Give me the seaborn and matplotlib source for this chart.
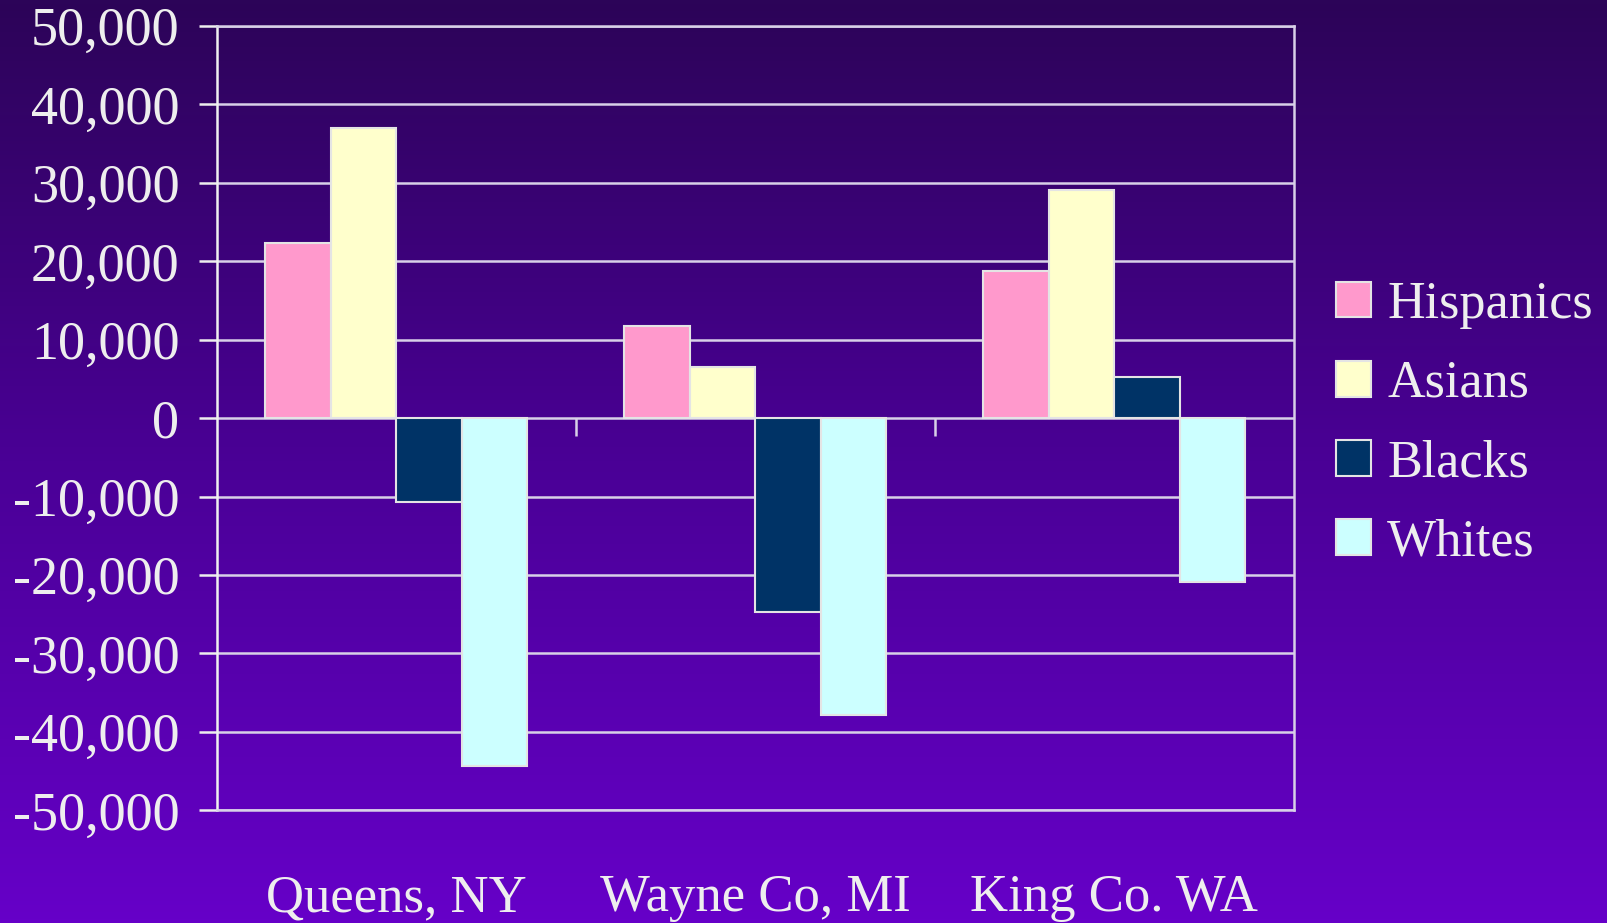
import matplotlib
matplotlib.use('Agg')

import matplotlib.pyplot as plt
import matplotlib.colors as mcolors
import seaborn as sns
import numpy as np
import pandas as pd

# Net population change by group
counties = ['Queens, NY', 'Wayne Co, MI', 'King Co. WA']
groups = ['Hispanics', 'Asians', 'Blacks', 'Whites']
hispanics = [22300, 11700, 18800]
asians = [37000, 6500, 29100]
blacks = [-10700, -24700, 5200]
whites = [-44400, -37900, -20900]
y_ticks = list(range(-50000, 50001, 10000))

palette = ['#FF99CC', '#FFFFCC', '#003366', '#CCFFFF']
TEXT = '#EEEEEE'
GRID = '#D8D0E8'

rows = []
for name, vals in zip(groups, [hispanics, asians, blacks, whites]):
    for c, v in zip(counties, vals):
        rows.append({'county': c, 'group': name, 'change': v})
df = pd.DataFrame(rows)

sns.set_style('white')
plt.rcParams['font.family'] = ['Liberation Serif', 'DejaVu Serif']

fig = plt.figure(figsize=(16.07, 9.23), dpi=100)

# gradient background
bg = fig.add_axes([0, 0, 1, 1], zorder=-10)
grad = mcolors.LinearSegmentedColormap.from_list('bg', ['#2C0458', '#4A0096', '#6600C8'])
bg.imshow(np.linspace(0, 1, 256).reshape(-1, 1), aspect='auto', cmap=grad,
          extent=[0, 1, 0, 1], origin='upper')
bg.axis('off')

ax = fig.add_axes([0.135, 0.122, 0.670, 0.850])
ax.patch.set_alpha(0)

sns.barplot(data=df, x='county', y='change', hue='group', hue_order=groups,
            order=counties, palette=palette, width=0.73, gap=0,
            edgecolor='#E4E4E4', linewidth=1.5, saturation=1, ax=ax, zorder=3)

ax.set_ylim(-50000, 50000)
ax.set_xlim(-0.5, 2.5)
ax.set_yticks(y_ticks)
ax.set_yticklabels([f'{t:,}' for t in y_ticks])
ax.set_xlabel('')
ax.set_ylabel('')
ax.yaxis.grid(True, color=GRID, lw=1.8, zorder=0)
ax.set_axisbelow(True)

ax.tick_params(axis='y', colors=TEXT, labelsize=39, direction='out',
               length=13, width=1.8, pad=14, left=True)
ax.tick_params(axis='x', colors=TEXT, labelsize=38, length=0, pad=46)
for lab in ax.get_xticklabels() + ax.get_yticklabels():
    lab.set_color(TEXT)

for side in ['left', 'right', 'top', 'bottom']:
    ax.spines[side].set_visible(True)
    ax.spines[side].set_color(GRID)
    ax.spines[side].set_linewidth(1.8)
ax.spines['left'].set_color('#F0F0F0')

# category divider ticks on the zero line
ax.vlines([0.5, 1.5], -2300, 0, color=GRID, lw=1.8, zorder=2)

leg = ax.legend(loc='center left', bbox_to_anchor=(1.02, 0.493), frameon=False,
                fontsize=37.5, labelcolor=TEXT, handlelength=0.68,
                handleheight=0.68, handletextpad=0.3, labelspacing=0.6,
                borderaxespad=0)
for h in leg.legend_handles:
    h.set_edgecolor('#E4E4E4')
    h.set_linewidth(1.5)

fig.savefig('out.png', dpi=100)
